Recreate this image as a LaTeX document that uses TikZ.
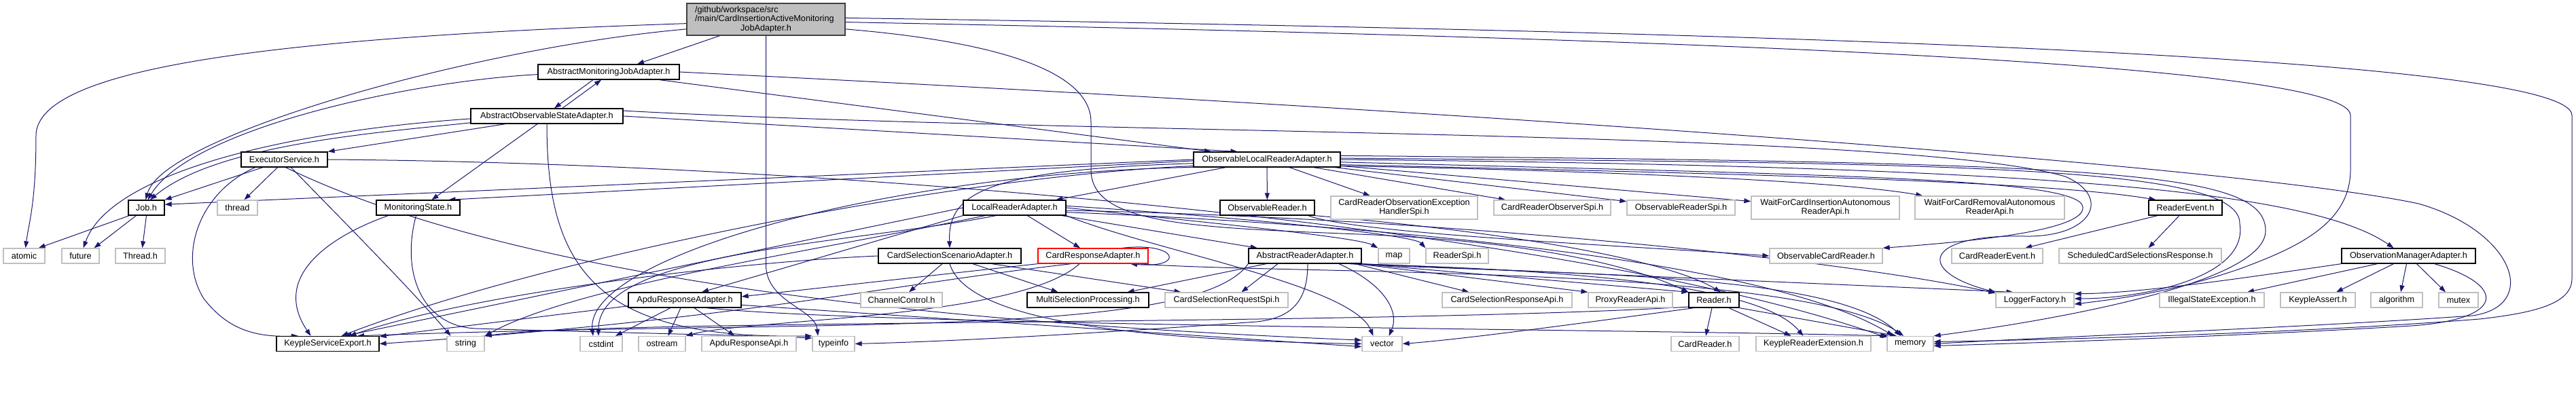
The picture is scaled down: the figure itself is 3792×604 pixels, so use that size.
\documentclass[tikz,border=0pt]{standalone}
\usepackage{fontspec}
\setmainfont{Liberation Sans}
\usetikzlibrary{arrows.meta, backgrounds}
\definecolor{doxyNavy}{RGB}{25,25,112}
\definecolor{doxyGray}{RGB}{191,191,191}
\definecolor{doxyDark}{RGB}{64,64,64}
\newcommand{\hdrfont}{\fontsize{12.7}{13.3}\selectfont}

\begin{document}
\begin{tikzpicture}[x=1pt, y=1pt,
      hdr/.style={draw=black, fill=white, line width=1.3pt, minimum height=22pt, inner sep=2pt, font=\hdrfont},
      syshdr/.style={hdr, draw=doxyGray},
      twoline/.style={minimum height=34pt, align=center},
      dep/.style={-{Triangle[length=10pt, width=7pt]}, draw=doxyNavy, line width=1pt}
    ]
    \useasboundingbox (0,0) rectangle (3792,-604);

    \node[hdr, fill=doxyGray, draw=doxyDark, minimum width=233pt, minimum height=47pt, text width=209pt, align=left] (main) at (1127.5,-28.5) {/github/workspace/src\\/main/CardInsertionActiveMonitoring\\\makebox[\hsize]{JobAdapter.h}};
    \node[hdr, minimum width=208pt] (amja) at (896,-106) {AbstractMonitoringJobAdapter.h};
    \node[hdr, minimum width=224pt] (aosa) at (805,-171) {AbstractObservableStateAdapter.h};
    \node[hdr, minimum width=127pt] (es) at (418.5,-235) {ExecutorService.h};
    \node[hdr, minimum width=216pt] (olra) at (1865,-235) {ObservableLocalReaderAdapter.h};

    \node[hdr, minimum width=53pt] (job) at (215.5,-306) {Job.h};
    \node[syshdr, minimum width=59pt] (thread) at (349.5,-306) {thread};
    \node[hdr, minimum width=123pt] (ms) at (615.5,-306) {MonitoringState.h};
    \node[hdr, minimum width=151pt] (lra) at (1493.5,-306) {LocalReaderAdapter.h};
    \node[hdr, minimum width=139pt] (obsr) at (1865.5,-306) {ObservableReader.h};
    \node[syshdr, twoline, minimum width=216pt] (croehs) at (2067,-306) {CardReaderObservationException\\HandlerSpi.h};
    \node[syshdr, minimum width=172pt] (crospi) at (2285,-306) {CardReaderObserverSpi.h};
    \node[syshdr, minimum width=159pt] (orspi) at (2474.5,-306) {ObservableReaderSpi.h};
    \node[syshdr, twoline, minimum width=218pt] (wfcia) at (2687,-306) {WaitForCardInsertionAutonomous\\ReaderApi.h};
    \node[syshdr, twoline, minimum width=220pt] (wfcra) at (2929,-306) {WaitForCardRemovalAutonomous\\ReaderApi.h};
    \node[hdr, minimum width=108pt] (re) at (3217,-306) {ReaderEvent.h};

    \node[syshdr, minimum width=61pt] (atomic) at (35.5,-377) {atomic};
    \node[syshdr, minimum width=55pt] (future) at (118.5,-377) {future};
    \node[syshdr, minimum width=73pt] (threadh) at (206.5,-377) {Thread.h};
    \node[hdr, minimum width=210pt] (cssa) at (1398,-377) {CardSelectionScenarioAdapter.h};
    \node[hdr, draw=red, minimum width=162pt] (cra) at (1609,-377) {CardResponseAdapter.h};
    \node[hdr, minimum width=166pt] (ara) at (1921,-377) {AbstractReaderAdapter.h};
    \node[syshdr, minimum width=46pt] (map) at (2052,-377) {map};
    \node[syshdr, minimum width=92pt] (rspi) at (2145,-377) {ReaderSpi.h};
    \node[syshdr, minimum width=166pt] (ocr) at (2688,-377) {ObservableCardReader.h};
    \node[syshdr, minimum width=134pt] (cre) at (2940,-377) {CardReaderEvent.h};
    \node[syshdr, minimum width=239pt] (scsr) at (3150.5,-377) {ScheduledCardSelectionsResponse.h};
    \node[hdr, minimum width=197pt] (oma) at (3545.5,-377) {ObservationManagerAdapter.h};

    \node[hdr, minimum width=166pt] (apdu) at (1008,-442) {ApduResponseAdapter.h};
    \node[syshdr, minimum width=120pt] (cc) at (1327,-442) {ChannelControl.h};
    \node[hdr, minimum width=179pt] (msp) at (1601.5,-442) {MultiSelectionProcessing.h};
    \node[syshdr, minimum width=181pt] (csrqspi) at (1805.5,-442) {CardSelectionRequestSpi.h};
    \node[syshdr, minimum width=191pt] (csrapi) at (2218.5,-442) {CardSelectionResponseApi.h};
    \node[syshdr, minimum width=124pt] (pra) at (2400,-442) {ProxyReaderApi.h};
    \node[hdr, minimum width=74pt] (reader) at (2523,-442) {Reader.h};
    \node[syshdr, minimum width=115pt] (lf) at (2995.5,-442) {LoggerFactory.h};
    \node[syshdr, minimum width=154pt] (ise) at (3256,-442) {IllegalStateException.h};
    \node[syshdr, minimum width=110pt] (ka) at (3412,-442) {KeypleAssert.h};
    \node[syshdr, minimum width=76pt] (algo) at (3528,-442) {algorithm};
    \node[syshdr, minimum width=58pt] (mutex) at (3619,-442) {mutex};

    \node[hdr, minimum width=151pt] (kse) at (482.5,-506.5) {KeypleServiceExport.h};
    \node[syshdr, minimum width=55pt] (string) at (685.5,-506.5) {string};
    \node[syshdr, minimum width=62pt] (cstdint) at (885,-506.5) {cstdint};
    \node[syshdr, minimum width=69pt] (ostream) at (974.5,-506.5) {ostream};
    \node[syshdr, minimum width=139pt] (apduapi) at (1102.5,-506.5) {ApduResponseApi.h};
    \node[syshdr, minimum width=62pt] (typeinfo) at (1227,-506.5) {typeinfo};
    \node[syshdr, minimum width=59pt] (vector) at (2034.5,-506.5) {vector};
    \node[syshdr, minimum width=100pt] (cardreader) at (2510,-506.5) {CardReader.h};
    \node[syshdr, minimum width=169pt] (kre) at (2669.5,-506.5) {KeypleReaderExtension.h};
    \node[syshdr, minimum width=68pt] (memory) at (2812,-506.5) {memory};

    \begin{scope}[on background layer]
    \draw[dep] (main.183) .. controls (400,-55) and (53,-100) .. (53,-200) .. controls (53,-300) and (42,-330) .. (atomic.80);
    \draw[dep] (main.187) .. controls (700,-70) and (240,-200) .. (job.95);
    \draw[dep] ([xshift=-68pt]main.south) -- ([xshift=42pt]amja.north);
    \draw[dep] (main.south) -- (1127.5,-390) .. controls (1127.5,-445) and (1200,-455) .. ([xshift=-23pt]typeinfo.north);
    \draw[dep] (main.353) .. controls (1450,-60) and (1606,-100) .. (1606,-180) -- (1606,-250) .. controls (1606,-330) and (1750,-335) .. (2000,-345) .. controls (2250,-355) and (2400,-390) .. (reader.north west);
    \draw[dep] (main.358) .. controls (2400,-55) and (3460,-90) .. (3460,-170) -- (3460,-250) .. controls (3460,-330) and (3380,-365) .. (3300,-395) .. controls (3200,-430) and (3120,-440) .. (lf.354);
    \draw[dep] (main.1) .. controls (2500,-45) and (3786,-80) .. (3786,-170) -- (3786,-410) .. controls (3786,-445) and (3740,-460) .. (3650,-470) .. controls (3400,-490) and (3050,-500) .. (memory.5);

    \draw[dep] (amja.182) .. controls (600,-120) and (280,-190) .. (job.80);
    \draw[dep] ([xshift=-23pt]amja.south) -- ([xshift=11pt]aosa.north);
    \draw[dep] ([xshift=75pt]amja.south) -- ([xshift=-82pt]olra.north);
    \draw[dep] (amja.east) .. controls (2200,-165) and (3300,-245) .. (3560,-300) .. controls (3700,-340) and (3740,-450) .. (3640,-465) .. controls (3400,-482) and (3050,-495) .. (memory.0);

    \draw[dep] ([xshift=23pt]aosa.north) -- ([xshift=-11pt]amja.south);
    \draw[dep] ([xshift=-61pt]aosa.south) -- (es.north east);
    \draw[dep] ([xshift=-14pt]aosa.south) -- ([xshift=20pt]ms.north);
    \draw[dep] (aosa.east) -- (olra.165);
    \draw[dep] (aosa.182) .. controls (400,-195) and (160,-260) .. (future.70);
    \draw[dep] (aosa.185) .. controls (560,-195) and (320,-212) .. (job.65);
    \draw[dep] (aosa.4) .. controls (1600,-200) and (2800,-190) .. (3040,-260) .. controls (3110,-290) and (3080,-350) .. (2980,-348) .. controls (2830,-345) and (2820,-400) .. (lf.north west);
    \draw[dep] (aosa.south) .. controls (805,-400) and (880,-500) .. (typeinfo.north west);

    \draw[dep] ([xshift=-32pt]es.south) -- (job.north east);
    \draw[dep] ([xshift=-10pt]es.south) -- ([xshift=10pt]thread.north);
    \draw[dep] ([xshift=-43pt]es.south) .. controls (290,-285) and (262,-380) .. (300,-440) .. controls (335,-485) and (375,-497) .. (kse.165);
    \draw[dep] ([xshift=10pt]es.south) .. controls (470,-290) and (600,-420) .. ([xshift=-22pt]string.north);
    \draw[dep] ([xshift=2pt]es.south) .. controls (800,-430) and (1500,-480) .. (vector.170);
    \draw[dep] (es.east) .. controls (1200,-240) and (2300,-330) .. (memory.165);

    \draw[dep] ([xshift=-44pt]ms.south) .. controls (480,-350) and (400,-410) .. ([xshift=-25pt]kse.north);
    \draw[dep] ([xshift=-3pt]ms.south) .. controls (590,-400) and (620,-480) .. (700,-484) .. controls (900,-490) and (1100,-494) .. (typeinfo.165);

    \draw[dep] (olra) -- (lra);
    \draw[dep] (olra.183) .. controls (1450,-250) and (1395,-285) .. (cssa.north);
    \draw[dep] (olra) -- (obsr);
    \draw[dep] (olra) -- (croehs);
    \draw[dep] (olra) -- (crospi);
    \draw[dep] (olra) -- (orspi);
    \draw[dep] (olra) -- (wfcia);
    \draw[dep] (olra.355) .. controls (2300,-250) and (2700,-265) .. ([xshift=12pt]wfcra.north west);
    \draw[dep] (olra.356) .. controls (2500,-255) and (3000,-265) .. (re.165);
    \draw[dep] (olra.east) .. controls (3000,-245) and (3400,-280) .. ([xshift=-22pt]oma.north);
    \draw[dep] (olra.1) .. controls (2900,-240) and (3300,-245) .. (3297,-330) .. controls (3310,-410) and (3150,-440) .. (lf.2);
    \draw[dep] (olra.3) .. controls (3100,-240) and (3335,-250) .. (3335,-340) .. controls (3335,-420) and (3000,-475) .. (memory.north east);
    \draw[dep] (olra.358) .. controls (2700,-258) and (3062,-262) .. (3066,-305) .. controls (3070,-340) and (2900,-356) .. (ocr.north east);
    \draw[dep] (olra.180) -- (job.10);
    \draw[dep] (olra.181) -- ([xshift=45pt]ms.north);
    \draw[dep] (olra.185) .. controls (1400,-260) and (800,-380) .. (kse.30);
    \draw[dep] (olra.186) .. controls (1300,-255) and (860,-380) .. ([xshift=-12pt]cstdint.north);

    \draw[dep] (lra) -- (cra);
    \draw[dep] (lra) -- (ara);
    \draw[dep] (lra.south west) -- ([xshift=25pt]apdu.north);
    \draw[dep] (lra.west) -- (kse.25);
    \draw[dep] (lra.195) .. controls (1200,-370) and (850,-420) .. (string.north east);
    \draw[dep] (lra.203) .. controls (1250,-360) and (880,-370) .. ([xshift=-4pt]cstdint.north);
    \draw[dep] (lra.east) .. controls (1800,-330) and (2000,-350) .. (map.north west);
    \draw[dep] (lra.2) .. controls (1800,-318) and (2080,-345) .. (rspi.north west);
    \draw[dep] (lra.south east) .. controls (1700,-370) and (1990,-420) .. ([xshift=-13pt]vector.north);
    \draw[dep] (lra.355) .. controls (2000,-330) and (2600,-380) .. (memory.155);
    \draw[dep] (lra.357) .. controls (2100,-320) and (2700,-380) .. (lf.170);

    \draw[dep] ([xshift=-11pt]cssa.south) -- ([xshift=11pt]cc.north);
    \draw[dep] ([xshift=34pt]cssa.south) -- ([xshift=-44pt]msp.north);
    \draw[dep] ([xshift=62pt]cssa.south) -- ([xshift=-67pt]csrqspi.north);
    \draw[dep] (cssa.west) .. controls (1100,-385) and (700,-430) .. (kse.20);
    \draw[dep] (cssa.south) .. controls (1420,-460) and (1600,-500) .. (vector.west);

    \draw[dep] ([xshift=43pt]cra.north) .. controls (1735,-356) and (1745,-396) .. ([xshift=55pt]cra.south);
    \draw[dep] (cra.south west) -- ([yshift=5pt]apdu.east);
    \draw[dep] (cra.200) .. controls (1300,-420) and (1100,-470) .. (kse.east);
    \draw[dep] ([xshift=-20pt]cra.south) .. controls (1500,-470) and (1100,-470) .. (ostream.north east);
    \draw[dep] (cra.350) .. controls (1900,-405) and (2650,-390) .. (memory.130);

    \draw[dep] ([xshift=-57pt]ara.south) -- ([xshift=58pt]msp.north);
    \draw[dep] ([xshift=-40pt]ara.south) -- ([xshift=22pt]csrqspi.north);
    \draw[dep] (ara.south west) .. controls (1760,-500) and (1200,-470) .. (kse.15);
    \draw[dep] ([xshift=4pt]ara.south) .. controls (1925,-440) and (1905,-468) .. (1850,-474) .. controls (1600,-492) and (1400,-503) .. (typeinfo.east);
    \draw[dep] ([xshift=-10pt]ara.south east) -- ([xshift=-56pt]csrapi.north);
    \draw[dep] ([xshift=-6pt]ara.south east) -- (pra.north west);
    \draw[dep] ([xshift=-3pt]ara.south east) -- (reader.north west);
    \draw[dep] (ara.south east) -- (lf.160);
    \draw[dep] ([xshift=-14pt]ara.south east) .. controls (2400,-400) and (2600,-430) .. ([xshift=-15pt]kre.north);
    \draw[dep] ([xshift=-18pt]ara.south east) .. controls (2300,-405) and (2700,-400) .. (memory.140);
    \draw[dep] ([xshift=50pt]ara.south) .. controls (2040,-420) and (2060,-460) .. ([xshift=10pt]vector.north);

    \draw[dep] ([xshift=-21pt]apdu.south) -- ([xshift=21pt]cstdint.north);
    \draw[dep] ([xshift=-6pt]apdu.south) -- ([xshift=9pt]ostream.north);
    \draw[dep] ([xshift=14pt]apdu.south) -- ([xshift=-21pt]apduapi.north);
    \draw[dep] (apdu.186) -- (kse.8);
    \draw[dep] (apdu.355) -- (vector.188);
    \draw[dep] (apdu.340) .. controls (1300,-480) and (2400,-485) .. (memory.160);

    \draw[dep] (obsr.south east) .. controls (2200,-340) and (2450,-380) .. ([xshift=10pt]reader.north);
    \draw[dep] ([xshift=-10pt]obsr.south east) .. controls (2000,-345) and (2400,-362) .. (ocr.west);

    \draw[dep] ([xshift=-3pt]reader.south) -- ([xshift=1pt]cardreader.north);
    \draw[dep] ([xshift=22pt]reader.south) -- ([xshift=-33pt]kre.north);
    \draw[dep] (reader.south east) -- (memory.150);
    \draw[dep] ([xshift=8pt]reader.south west) .. controls (2300,-480) and (2150,-500) .. (vector.east);
    \draw[dep] (reader.195) .. controls (2000,-480) and (900,-470) .. (string.north east);

    \draw[dep] ([xshift=-41pt]re.south) -- ([xshift=41pt]cre.north);
    \draw[dep] ([xshift=-9pt]re.south) -- ([xshift=12pt]scsr.north);

    \draw[dep] ([xshift=-46pt]oma.south) -- ([xshift=52pt]ise.north);
    \draw[dep] ([xshift=-22pt]oma.south) -- ([xshift=27pt]ka.north);
    \draw[dep] ([xshift=-3pt]oma.south) -- ([xshift=6pt]algo.north);
    \draw[dep] ([xshift=12pt]oma.south) -- ([xshift=-19pt]mutex.north);
    \draw[dep] (oma.south west) .. controls (3300,-410) and (3150,-432) .. (lf.9);
    \draw[dep] ([xshift=38pt]oma.south) .. controls (3690,-420) and (3690,-470) .. (3550,-480) .. controls (3300,-495) and (3000,-505) .. (memory.355);

    \draw[dep] ([xshift=2pt]job.south west) -- ([xshift=-10pt]atomic.north east);
    \draw[dep] ([xshift=-15pt]job.south) -- ([xshift=20pt]future.north);
    \draw[dep] (job.south) -- ([xshift=3pt]threadh.north);
    \end{scope}
  \end{tikzpicture}
\end{document}
